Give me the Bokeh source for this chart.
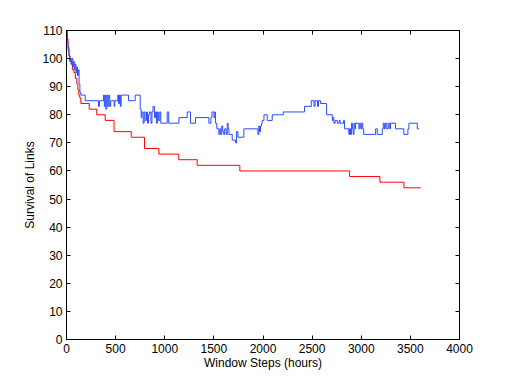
from bokeh.plotting import figure
from bokeh.models import Range1d, SingleIntervalTicker, LinearAxis, CustomJSTickFormatter
from bokeh.embed import file_html
from bokeh.resources import INLINE

# Red series (step, "after" mode)
red_x = [0, 8, 16, 26, 36, 48, 60, 75, 90, 105, 115, 125, 135, 146, 231, 308, 394, 484,
         659, 794, 940, 1143, 1330, 1764, 2881, 3190, 3434, 3604]
red_y = [110, 107, 104, 101, 99, 98, 96, 95, 93, 91, 89, 87, 86, 84, 82, 80, 78, 74,
         72, 68, 66, 64, 62, 60, 58, 56, 54, 54]

# Blue series (step, "after" mode)
blue_x = [0, 8, 16, 24, 32, 40, 48, 56, 64, 72, 80, 88, 96, 104, 112, 120, 128, 136, 146,
          190, 326, 335, 343, 377, 385, 393, 400, 410, 420, 430, 440, 450, 461, 485, 492, 522,
          530, 540, 548, 556, 563, 631, 699, 750, 760, 767, 780, 790, 800, 815, 825, 835, 845,
          860, 870, 880, 895, 905, 915, 925, 935, 950, 960, 1025, 1040, 1144, 1229, 1262, 1313,
          1449, 1470, 1480, 1500, 1510, 1517, 1530, 1551, 1560, 1570, 1580, 1590, 1600, 1610,
          1625, 1636, 1645, 1653, 1687, 1720, 1730, 1745, 1805, 1948, 1958, 1965, 1975, 1985,
          1992, 2010, 2043, 2094, 2206, 2423, 2491, 2520, 2530, 2555, 2565, 2586, 2647, 2705,
          2712, 2721, 2735, 2756, 2775, 2785, 2820, 2830, 2874, 2880, 2891, 2900, 2910, 2918,
          2926, 2935, 2942, 2976, 2985, 2995, 3005, 3015, 3025, 3146, 3163, 3214, 3224, 3235,
          3245, 3260, 3275, 3290, 3298, 3349, 3434, 3475, 3485, 3570, 3587, 3604]
blue_y = [110, 106, 103, 101, 99, 100, 98, 100, 97, 99, 96, 98, 95, 97, 94, 96, 91, 88, 87,
          85, 83, 85, 85, 87, 83, 87, 82, 87, 83, 87, 83, 85, 85, 83, 85, 87,
          84, 87, 83, 87, 87, 85, 87, 82, 79, 81, 77, 81, 78, 81, 77, 80,
          81, 77, 81, 83, 79, 81, 77, 81, 78, 81, 77, 81, 77, 79, 81, 77,
          79, 77, 79, 81, 79, 81, 77, 75, 73, 75, 73, 76, 74, 73,
          75, 73, 77, 75, 73, 71, 70, 74, 72, 75, 73, 76, 74, 76,
          77, 78, 80, 78, 80, 81, 83, 85, 83, 85, 83, 85, 84, 80,
          78, 79, 77, 78, 77, 78, 77, 78, 75, 73, 75, 73, 77, 75,
          73, 77, 75, 77, 75, 77, 75, 77, 75, 73, 75, 73, 75, 77,
          75, 77, 75, 77, 75, 77, 75, 73, 75, 77, 75, 75]

x_ticks_interval = 500
y_ticks_interval = 10

FONT = "Liberation Sans"

p = figure(width=499, height=374, output_backend="svg", toolbar_location=None,
           x_range=Range1d(0, 4000), y_range=Range1d(0, 110),
           min_border_left=66, min_border_right=40, min_border_top=30, min_border_bottom=35)

p.step(red_x, red_y, mode="after", line_color="#ff0000", line_width=1)
p.step(blue_x, blue_y, mode="after", line_color="#2a4bff", line_width=1)

p.xgrid.visible = False
p.ygrid.visible = False
p.outline_line_color = "black"
p.outline_line_width = 1
p.background_fill_color = "white"
p.border_fill_color = "white"


def style(ax, interval, labels=True):
    ax.ticker = SingleIntervalTicker(interval=interval)
    ax.major_tick_in = 4
    ax.major_tick_out = 0
    ax.minor_tick_line_color = None
    ax.axis_line_color = "black"
    ax.major_tick_line_color = "black"
    ax.major_label_text_font = FONT
    ax.major_label_text_font_size = "12px"
    ax.major_label_text_color = "black"
    ax.axis_label_text_font = FONT
    ax.axis_label_text_font_size = "12px"
    ax.axis_label_text_font_style = "normal"
    ax.axis_label_text_color = "black"
    if not labels:
        ax.formatter = CustomJSTickFormatter(code="return ''")


style(p.xaxis[0], x_ticks_interval)
style(p.yaxis[0], y_ticks_interval)
p.xaxis[0].axis_label = "Window Steps (hours)"
p.yaxis[0].axis_label = "Survival of Links"
p.xaxis[0].major_label_standoff = 0
p.xaxis[0].axis_label_standoff = 0
p.yaxis[0].major_label_standoff = 0
p.yaxis[0].axis_label_standoff = 2

top = LinearAxis()
style(top, x_ticks_interval, labels=False)
p.add_layout(top, "above")
right = LinearAxis()
style(right, y_ticks_interval, labels=False)
p.add_layout(right, "right")

open("out.html", "w").write(file_html(p, INLINE))
